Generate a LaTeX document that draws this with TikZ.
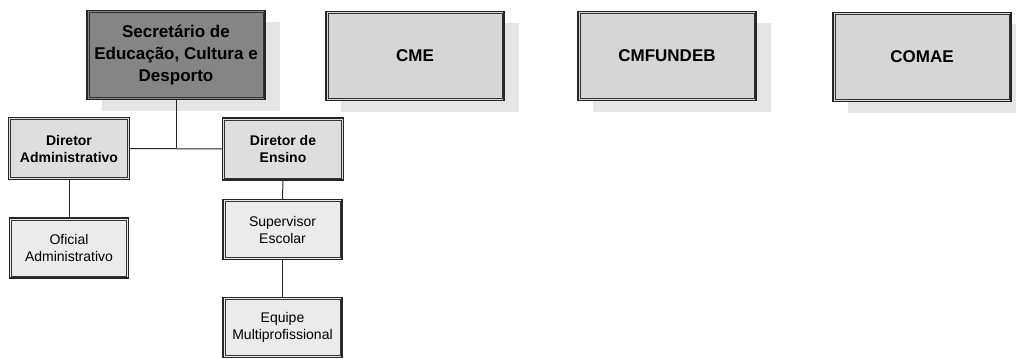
\documentclass[tikz,border=0pt]{standalone}
\usepackage{fontspec}
\setmainfont{Liberation Sans}
\usetikzlibrary{shadows}
\begin{document}
\begin{tikzpicture}[x=1pt,y=-1pt,
  box/.style={draw=black!85, line width=1.4pt, fill=#1, align=center, inner sep=0pt},
  topbox/.style={box=#1, minimum width=178pt, minimum height=89pt, font=\bfseries\fontsize{17}{22}\selectfont,
     drop shadow={shadow xshift=15pt, shadow yshift=-12pt, fill=black!10, opacity=1}},
  dirbox/.style={box=black!13, minimum width=121pt, minimum height=62pt, font=\bfseries\fontsize{14}{17}\selectfont},
  lowbox/.style={box=black!8, minimum width=119pt, minimum height=60pt, font=\fontsize{14}{17}\selectfont},
  inner/.style={draw=black!80, line width=0.7pt},
  link/.style={draw=black!85, line width=1pt}]
\useasboundingbox (0,0) rectangle (1016,358);
\node[topbox=black!48] (sec) at (176,55) {Secretário de\\Educação, Cultura e\\Desporto};
\node[topbox=black!16] (cme) at (415,56) {CME};
\node[topbox=black!16] (cmf) at (667,56) {CMFUNDEB};
\node[topbox=black!16] (comae) at (922,57) {COMAE};
\node[dirbox] (dadm) at (69,148.5) {Diretor\\Administrativo};
\node[dirbox] (dens) at (283,149) {Diretor de\\Ensino};
\node[lowbox] (ofic) at (69,248) {Oficial\\Administrativo};
\node[lowbox] (sup) at (282.5,229.5) {Supervisor\\Escolar};
\node[lowbox] (equ) at (282.5,327.5) {Equipe\\Multiprofissional};
\foreach \n in {sec,cme,cmf,comae,dadm,dens,ofic,sup,equ}
  \draw[inner] ([shift={(2.8,2.8)}]\n.north west) rectangle ([shift={(-2.8,-2.8)}]\n.south east);
\coordinate (jn) at (sec.south |- dadm.east);
\draw[link] (sec.south) -- (jn);
\draw[link] (dadm.east) -- (dens.west);
\draw[link] (dadm.south) -- (ofic.north);
\draw[link] (dens.south) -- (sup.north);
\draw[link] (sup.south) -- (equ.north);
\end{tikzpicture}
\end{document}
